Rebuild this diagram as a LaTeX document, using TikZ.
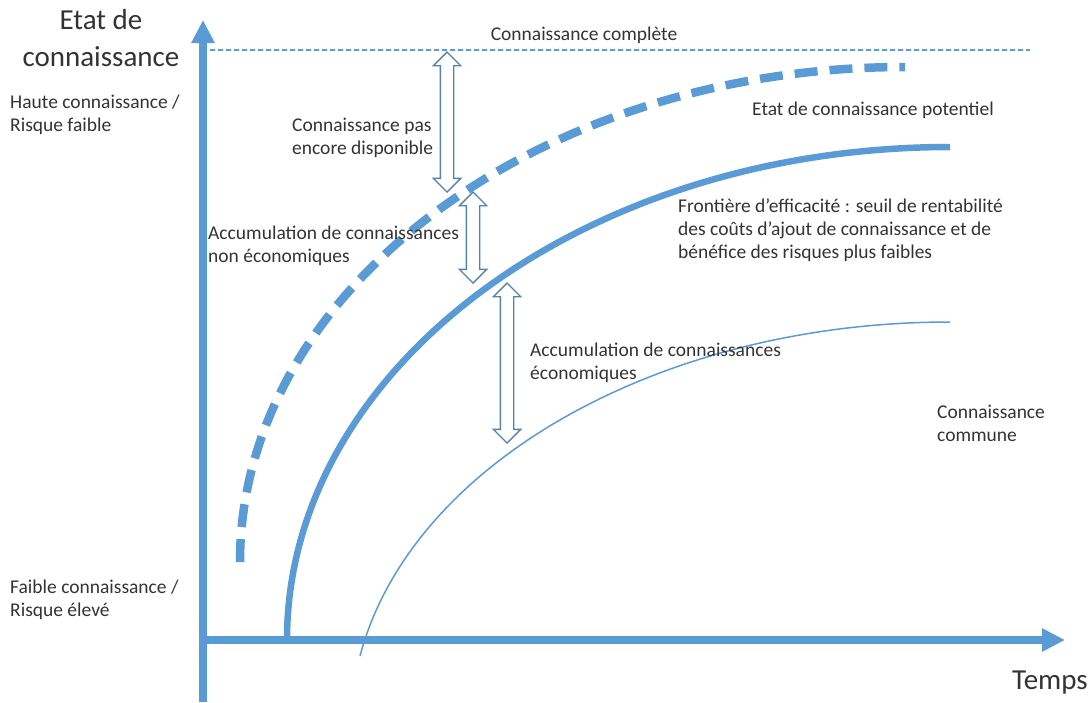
\documentclass[tikz,border=0pt]{standalone}
\usepackage{fontspec}
\setmainfont{Carlito}
\usepackage{tikz}
\usetikzlibrary{arrows.meta,positioning,shapes.arrows,calc}
\definecolor{kcBlue}{RGB}{91,155,213}
\definecolor{kcArrow}{RGB}{84,130,175}
\definecolor{kcText}{RGB}{51,51,51}
\tikzset{
  %% axes and curves
  kcAxis/.style={draw=kcBlue, line width=8pt, -{Triangle[length=23pt, width=22pt]}},
  kcTop/.style={draw=kcBlue, line width=1.1pt, dash pattern=on 5pt off 3pt},
  kcPot/.style={draw=kcBlue, line width=8.5pt, dash pattern=on 23pt off 12pt},
  kcEff/.style={draw=kcBlue, line width=6.5pt},
  kcCom/.style={draw=kcBlue, line width=1.5pt},
  %% hollow double arrows
  kcGap/.style={double arrow, draw=kcArrow, fill=white, line width=1.4pt,
    inner sep=6pt, minimum width=26pt, double arrow head extend=7pt,
    shape border rotate=90},
  %% texts
  kcLabel/.style={font=\fontsize{19.5}{23}\selectfont, text=kcText, align=left,
    anchor=west, inner sep=0pt},
  kcTitle/.style={font=\fontsize{29}{37}\selectfont, text=kcText, align=center,
    inner sep=0pt},
}
\begin{document}
\begin{tikzpicture}[x=1pt, y=-1pt]
\useasboundingbox (0,0) rectangle (1091,702);

%% axes
\coordinate (oBot) at (203,702);
\coordinate (oTop) at (203,20);
\coordinate (oLeft) at (199,640);
\coordinate (oRight) at (1065,640);
\draw[kcAxis] (oBot) -- (oTop);
\draw[kcAxis] (oLeft) -- (oRight);

%% complete knowledge line
\coordinate (cL) at (210,50);
\coordinate (cR) at (1030,50);
\draw[kcTop] (cL) -- (cR);

%% curves
\coordinate (pS) at (240,562);
\coordinate (pE) at (905,67);
\draw[kcPot] (pS) .. controls (240,291) and (537,67) .. (pE);
\coordinate (eS) at (287,640);
\coordinate (eE) at (950,147);
\draw[kcEff] (eS) .. controls (287,368) and (584,147) .. (eE);
\coordinate (mS) at (360,656);
\coordinate (mE) at (950,322);
\draw[kcCom] (mS) .. controls (411,463) and (661,322) .. (mE);

%% gaps
\node[kcGap, minimum height=140pt] (gNot) at (447,122) {};
\node[kcGap, minimum height=91pt]  (gNon) at (473,237.5) {};
\node[kcGap, minimum height=160pt] (gEco) at (507,363) {};

%% labels
\node[kcTitle] (tY) at (101,38) {Etat de\\connaissance};
\node[kcTitle] (tX) at (1050,683) {Temps};
\node[kcLabel, anchor=center] (lComp) at (584,35) {Connaissance complète};
\node[kcLabel] (lHigh) at (10,115) {Haute connaissance /\\Risque faible};
\node[kcLabel] (lLow) at (10,600) {Faible connaissance /\\Risque élevé};
\node[kcLabel] (lNot) at (292,138) {Connaissance pas\\encore disponible};
\node[kcLabel] (lPot) at (752,110) {Etat de connaissance potentiel};
\node[kcLabel] (lNon) at (208,246) {Accumulation de connaissances\\non économiques};
\node[kcLabel] (lEff) at (678,230) {Frontière d’efficacité : seuil de rentabilité\\des coûts d’ajout de connaissance et de\\bénéfice des risques plus faibles};
\node[kcLabel] (lEco) at (530,363) {Accumulation de connaissances\\économiques};
\node[kcLabel] (lCom) at (937,423) {Connaissance\\commune};

\end{tikzpicture}
\end{document}
